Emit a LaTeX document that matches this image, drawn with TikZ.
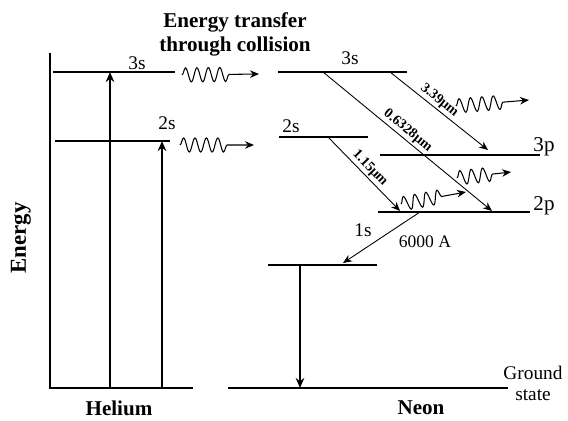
\documentclass[tikz,border=0pt]{standalone}
\usepackage{fontspec}
\setmainfont{Liberation Serif}
\usetikzlibrary{arrows.meta,positioning,decorations.pathmorphing}

\begin{document}
\begin{tikzpicture}[x=0.02cm, y=-0.02cm,
  lvl/.style={line width=1.2pt},
  pump/.style={-{Stealth[length=2mm, width=1.7mm]}, line width=1.2pt},
  tr/.style={-{Stealth[length=1.8mm, width=1.5mm]}, line width=0.5pt},
  wave/.style={-{Stealth[length=1.8mm, width=1.5mm]}, line width=0.6pt, decorate,
    decoration={snake, amplitude=4pt, segment length=6.5pt, post length=#1}},
  wave/.default=3mm,
  lbl/.style={font=\fontsize{11}{12}\selectfont, inner sep=1pt},
  big/.style={font=\fontsize{12}{13.6}\selectfont\bfseries, inner sep=1pt},
  wl/.style={font=\fontsize{8}{9}\selectfont\bfseries, sloped, above, inner sep=1pt}]
\useasboundingbox (0,0) rectangle (568,420);

% helium side
\coordinate (axT) at (50,53);
\coordinate (axO) at (50,388);
\coordinate (axR) at (193,388);
\draw[lvl] (axT) -- (axO) -- (axR);
\coordinate (he3sL) at (53,72);  \coordinate (he3sR) at (175,72);
\coordinate (he2sL) at (55,141); \coordinate (he2sR) at (170,141);
\draw[lvl] (he3sL) -- (he3sR);
\draw[lvl] (he2sL) -- (he2sR);
\node[lbl] (he3s) at (137,63) {3s};
\node[lbl] (he2s) at (167,123) {2s};
\coordinate (pA) at (110,388);
\coordinate (pB) at (162,388);
\draw[pump] (pA) -- (pA |- he3sL);
\draw[pump] (pB) -- (pB |- he2sL);
\node[big, rotate=90, font=\fontsize{13}{14}\selectfont\bfseries] (energy) at (21,238) {Energy};
\node[big] (helium) at (119,408) {Helium};

% collision transfer
\node[big, align=center] (transfer) at (235,34) {Energy transfer\\through collision};
\coordinate (w1a) at (182,75);  \coordinate (w1b) at (259,74);
\coordinate (w2a) at (180,145); \coordinate (w2b) at (254,145);
\draw[wave=5mm] (w1a) -- (w1b);
\draw[wave=4.5mm] (w2a) -- (w2b);

% neon side
\coordinate (ne3sL) at (278,72);  \coordinate (ne3sR) at (407,72);
\coordinate (ne2sL) at (279,137); \coordinate (ne2sR) at (368,137);
\coordinate (ne3pL) at (380,155); \coordinate (ne3pR) at (540,155);
\coordinate (ne2pL) at (378,212); \coordinate (ne2pR) at (530,212);
\coordinate (ne1sL) at (268,265); \coordinate (ne1sR) at (377,265);
\coordinate (gndL) at (228,388);  \coordinate (gndR) at (508,388);
\foreach \l in {ne3s,ne2s,ne3p,ne2p,ne1s,gnd}
  \draw[lvl] (\l L) -- (\l R);
\node[lbl] (ne3s) at (350,58) {3s};
\node[lbl] (ne2s) at (291,126) {2s};
\node[lbl, font=\fontsize{12}{13}\selectfont] (ne3p) at (544,147) {3p};
\node[lbl, font=\fontsize{12}{13}\selectfont] (ne2p) at (544,206) {2p};
\node[lbl] (ne1s) at (363,230) {1s};
\node[lbl, align=center] (ground) at (533,383) {Ground\\state};
\node[big] (neon) at (421,408) {Neon};

% lasing transitions
\coordinate (t1a) at (390,72);  \coordinate (t1b) at (488,150);
\coordinate (t2a) at (323,72);  \coordinate (t2b) at (492,211);
\coordinate (t3a) at (328,137); \coordinate (t3b) at (400,211);
\coordinate (t4a) at (420,212); \coordinate (t4b) at (343,263);
\draw[tr] (t1a) -- (t1b) node[wl, pos=0.45] {3.39μm};
\draw[tr] (t2a) -- (t2b) node[wl, pos=0.47] {0.6328μm};
\draw[tr] (t3a) -- (t3b) node[wl, pos=0.5] {1.15μm};
\draw[tr] (t4a) -- (t4b);
\node[lbl, font=\fontsize{10}{11}\selectfont] (nm6000) at (425,242) {6000 A};
\coordinate (dA) at (300,265);
\draw[pump, line width=1.6pt] (dA) -- (dA |- gndL);

% emitted photons
\coordinate (e1a) at (456,106); \coordinate (e1b) at (529,100);
\coordinate (e2a) at (401,204); \coordinate (e2b) at (466,192);
\coordinate (e3a) at (457,178); \coordinate (e3b) at (511,172);
\draw[wave=5mm] (e1a) -- (e1b);
\draw[wave=4mm] (e2a) -- (e2b);
\draw[wave=3mm] (e3a) -- (e3b);
\end{tikzpicture}
\end{document}
